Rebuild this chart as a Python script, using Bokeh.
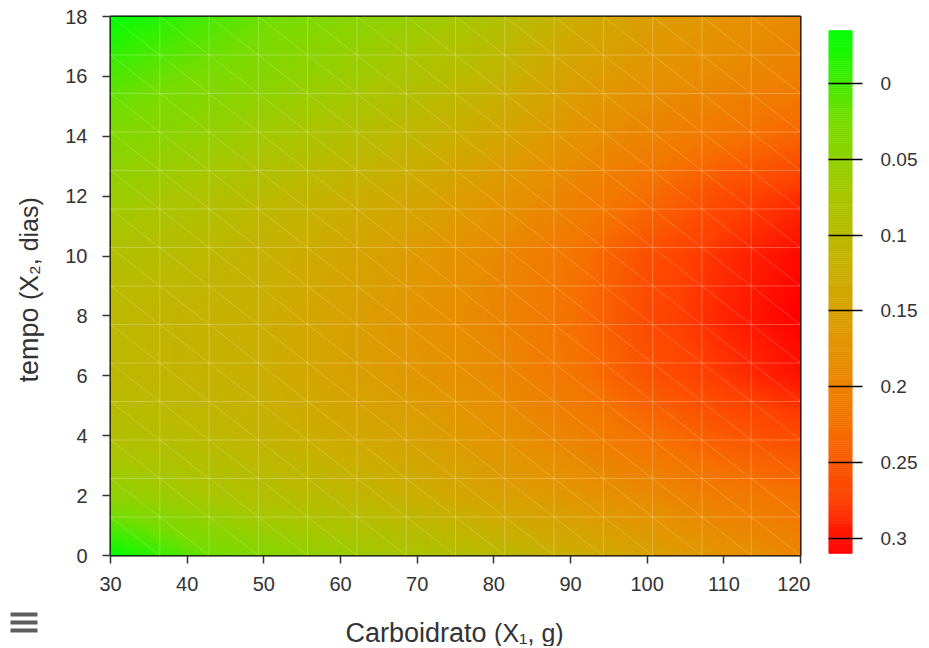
import numpy as np
from bokeh.plotting import figure
from bokeh.models import Range1d, LinearColorMapper, FixedTicker, CustomJSTickFormatter
from bokeh.core.properties import value
from bokeh.layouts import row, column
from bokeh.embed import file_html
from bokeh.resources import INLINE

# ---- data (response surface) ----
X_VALUES = [30, 40, 50, 60, 70, 80, 90, 100, 110, 120]   # Carboidrato (g)
Y_VALUES = [0, 2, 4, 6, 8, 10, 12, 14, 16, 18]            # tempo (dias)
Z_Y0  = [-0.035, 0.010, 0.040, 0.060, 0.080, 0.100, 0.125, 0.150, 0.175, 0.195]
Z_Y2  = [0.050, 0.070, 0.090, 0.105, 0.125, 0.150, 0.170, 0.190, 0.210, 0.225]
Z_Y4  = [0.090, 0.100, 0.115, 0.135, 0.150, 0.175, 0.200, 0.225, 0.250, 0.265]
Z_Y6  = [0.105, 0.115, 0.125, 0.150, 0.170, 0.190, 0.220, 0.255, 0.280, 0.300]
Z_Y8  = [0.105, 0.115, 0.125, 0.150, 0.175, 0.195, 0.225, 0.265, 0.290, 0.310]
Z_Y10 = [0.090, 0.100, 0.120, 0.140, 0.165, 0.190, 0.220, 0.260, 0.285, 0.305]
Z_Y12 = [0.060, 0.080, 0.100, 0.120, 0.140, 0.170, 0.200, 0.230, 0.265, 0.285]
Z_Y14 = [0.035, 0.050, 0.070, 0.090, 0.110, 0.140, 0.175, 0.200, 0.220, 0.240]
Z_Y16 = [0.005, 0.025, 0.040, 0.060, 0.085, 0.110, 0.150, 0.175, 0.190, 0.205]
Z_Y18 = [-0.035, -0.005, 0.020, 0.040, 0.060, 0.085, 0.125, 0.155, 0.175, 0.190]

X_TICKS = [30, 40, 50, 60, 70, 80, 90, 100, 110, 120]
Y_TICKS = [0, 2, 4, 6, 8, 10, 12, 14, 16, 18]
CB_TICKS = [0, 0.05, 0.1, 0.15, 0.2, 0.25, 0.3]
Z_LOW, Z_HIGH = -0.035, 0.31
MESH_CELLS = 14          # the surface mesh of the original has 14 x 14 cells

X_TITLE = ["Carboidrato", "(X₁, g)"]
Y_TITLE = ["tempo", "(X₂, dias)"]

# colour stops of the colour scale
STOP_VALUES = [-0.035, -0.005, 0.025, 0.075, 0.125, 0.175, 0.225, 0.275, 0.31]
STOP_COLORS = ["#00ff00", "#3aee00", "#78dc00", "#a8c600", "#cbae00",
               "#e49400", "#f57200", "#ff4000", "#ff0000"]

def build_palette(n=256):
    sv = np.array(STOP_VALUES)
    rgb = np.array([[int(c[i:i + 2], 16) for i in (1, 3, 5)] for c in STOP_COLORS], float)
    t = np.linspace(sv[0], sv[-1], n)
    cols = np.stack([np.interp(t, sv, rgb[:, k]) for k in range(3)], axis=1)
    return ["#%02x%02x%02x" % tuple(int(round(v)) for v in c) for c in cols]

PALETTE = build_palette()
mapper = LinearColorMapper(palette=PALETTE, low=Z_LOW, high=Z_HIGH)

Z = np.array([Z_Y0, Z_Y2, Z_Y4, Z_Y6, Z_Y8, Z_Y10, Z_Y12, Z_Y14, Z_Y16, Z_Y18])

def shade(nx=345, ny=270):
    """Gouraud-like (bilinear) shading of the read grid for display."""
    x0, x1 = X_VALUES[0], X_VALUES[-1]
    y0, y1 = Y_VALUES[0], Y_VALUES[-1]
    xs = x0 + (np.arange(nx) + 0.5) * (x1 - x0) / nx
    ys = y0 + (np.arange(ny) + 0.5) * (y1 - y0) / ny
    tmp = np.array([np.interp(xs, X_VALUES, r) for r in Z])
    return np.array([np.interp(ys, Y_VALUES, tmp[:, i]) for i in range(nx)]).T

FONT = "Liberation Sans"
TXT = "#333333"
FRAME_TOP, FRAME_H, BOTTOM_B = 16, 539, 45
ROW_H = FRAME_TOP + FRAME_H + BOTTOM_B
TOTAL_H = 646
W_LEFT, W_MAIN, W_CB = 60, 750, 117
BIG, SMALL = 27, 25          # font sizes (px) of the title words / parentheses

def bare(fig):
    fig.outline_line_color = None
    fig.background_fill_color = "white"
    fig.border_fill_color = "white"
    fig.xaxis.visible = False
    fig.yaxis.visible = False
    fig.grid.visible = False

# ---- main heat map ----
p = figure(width=W_MAIN, height=ROW_H, x_range=Range1d(X_VALUES[0], X_VALUES[-1]),
           y_range=Range1d(Y_VALUES[0], Y_VALUES[-1]),
           output_backend="svg", toolbar_location=None,
           min_border_left=110 - W_LEFT, min_border_right=10, min_border_top=FRAME_TOP,
           min_border_bottom=BOTTOM_B)
p.image(image=[shade()], x=X_VALUES[0], y=Y_VALUES[0],
        dw=X_VALUES[-1] - X_VALUES[0], dh=Y_VALUES[-1] - Y_VALUES[0], color_mapper=mapper)

# faint seams of the triangulated surface mesh
mx = np.linspace(X_VALUES[0], X_VALUES[-1], MESH_CELLS + 1)
my = np.linspace(Y_VALUES[0], Y_VALUES[-1], MESH_CELLS + 1)
gx, gy = np.meshgrid(np.arange(MESH_CELLS), np.arange(MESH_CELLS))
gx, gy = gx.ravel(), gy.ravel()
p.segment(x0=mx[gx], y0=my[gy + 1], x1=mx[gx + 1], y1=my[gy],
          line_color="white", line_alpha=0.2, line_width=1)
p.segment(x0=mx[1:-1], y0=Y_VALUES[0], x1=mx[1:-1], y1=Y_VALUES[-1],
          line_color="white", line_alpha=0.25, line_width=1)
p.segment(x0=X_VALUES[0], y0=my[1:-1], x1=X_VALUES[-1], y1=my[1:-1],
          line_color="white", line_alpha=0.25, line_width=1)

p.outline_line_color = "black"
p.outline_line_width = 2
p.background_fill_color = "white"
p.border_fill_color = "white"
for ax, ticks in ((p.xaxis, X_TICKS), (p.yaxis, Y_TICKS)):
    ax.ticker = FixedTicker(ticks=ticks)
    ax.axis_line_color = None
    ax.major_tick_line_color = "#333333"
    ax.major_tick_line_width = 1.5
    ax.major_tick_out = 8
    ax.major_tick_in = 0
    ax.minor_tick_line_color = None
    ax.major_label_text_font = FONT
    ax.major_label_text_font_size = "20px"
    ax.major_label_text_color = TXT
p.xaxis.major_label_standoff = 13
p.yaxis.major_label_standoff = 15
p.xgrid.visible = False
p.ygrid.visible = False

# ---- y-axis title strip (left) ----
yl = figure(width=W_LEFT, height=ROW_H, x_range=Range1d(0, W_LEFT), y_range=p.y_range,
            output_backend="svg", toolbar_location=None,
            min_border_left=0, min_border_right=0, min_border_top=FRAME_TOP,
            min_border_bottom=BOTTOM_B)
bare(yl)
px_per_y = FRAME_H / (Y_VALUES[-1] - Y_VALUES[0])
y_start = (555 - 382) / px_per_y
word_px = 2.779 * BIG + 0.278 * BIG        # "tempo" + a space, Liberation Sans metrics
yl.text(x=[28], y=[y_start], text=[Y_TITLE[0]], angle=np.pi / 2,
        text_font=value(FONT), text_font_size=value(f"{BIG}px"), text_color=TXT,
        text_baseline="alphabetic", text_align="left")
yl.text(x=[28], y=[y_start + word_px / px_per_y], text=[Y_TITLE[1]], angle=np.pi / 2,
        text_font=value(FONT), text_font_size=value(f"{SMALL}px"), text_color=TXT,
        text_baseline="alphabetic", text_align="left")

# ---- colour bar ----
BAR_TOP, BAR_BOTTOM = 30, 553   # pixel extent of the bar inside the page
s = (Z_HIGH - Z_LOW) / (BAR_BOTTOM - BAR_TOP)
cb = figure(width=W_CB, height=ROW_H, x_range=Range1d(0, 1),
            y_range=Range1d(Z_HIGH + (FRAME_TOP + FRAME_H - BAR_BOTTOM) * s,
                            Z_LOW - (BAR_TOP - FRAME_TOP) * s),
            output_backend="svg", toolbar_location=None, y_axis_location="right",
            min_border_left=18, min_border_right=W_CB - 18 - 24, min_border_top=FRAME_TOP,
            min_border_bottom=BOTTOM_B)
edges = np.linspace(Z_LOW, Z_HIGH, len(PALETTE) + 1)
cb.quad(left=0, right=1, bottom=edges[:-1], top=edges[1:], fill_color=PALETTE,
        line_color=PALETTE, line_width=0.6)
cb.outline_line_color = None
cb.xaxis.visible = False
cb.grid.visible = False
cb.border_fill_color = "white"
ya = cb.yaxis[0]
ya.ticker = FixedTicker(ticks=CB_TICKS)
ya.formatter = CustomJSTickFormatter(code="return String(Math.round(tick*100)/100);")
ya.axis_line_color = None
ya.major_tick_line_color = "black"
ya.major_tick_line_width = 1.5
ya.major_tick_in = 24
ya.major_tick_out = 10
ya.minor_tick_line_color = None
ya.major_label_standoff = 18
ya.major_label_text_font = FONT
ya.major_label_text_font_size = "19px"
ya.major_label_text_color = TXT

# ---- x-axis title strip (bottom) with the menu icon ----
BW = W_LEFT + W_MAIN + W_CB
BH = TOTAL_H - ROW_H
xl = figure(width=BW, height=BH, x_range=Range1d(0, BW), y_range=Range1d(0, BH),
            output_backend="svg", toolbar_location=None,
            min_border_left=0, min_border_right=0, min_border_top=0, min_border_bottom=0)
bare(xl)
xl.text(x=[345], y=[BH - 32], text=[X_TITLE[0]], text_font=value(FONT),
        text_font_size=value(f"{BIG}px"), text_color=TXT, text_baseline="alphabetic")
xl.text(x=[345 + 5.224 * BIG + 0.278 * BIG], y=[BH - 32], text=[X_TITLE[1]],
        text_font=value(FONT), text_font_size=value(f"{SMALL}px"), text_color=TXT,
        text_baseline="alphabetic")
for top in (12, 20, 28):
    xl.quad(left=10, right=37, top=BH - top, bottom=BH - top - 4,
            fill_color="#5e5e5e", line_color=None)

layout = column(row(yl, p, cb), xl)
open("out.html", "w").write(file_html(layout, INLINE))
